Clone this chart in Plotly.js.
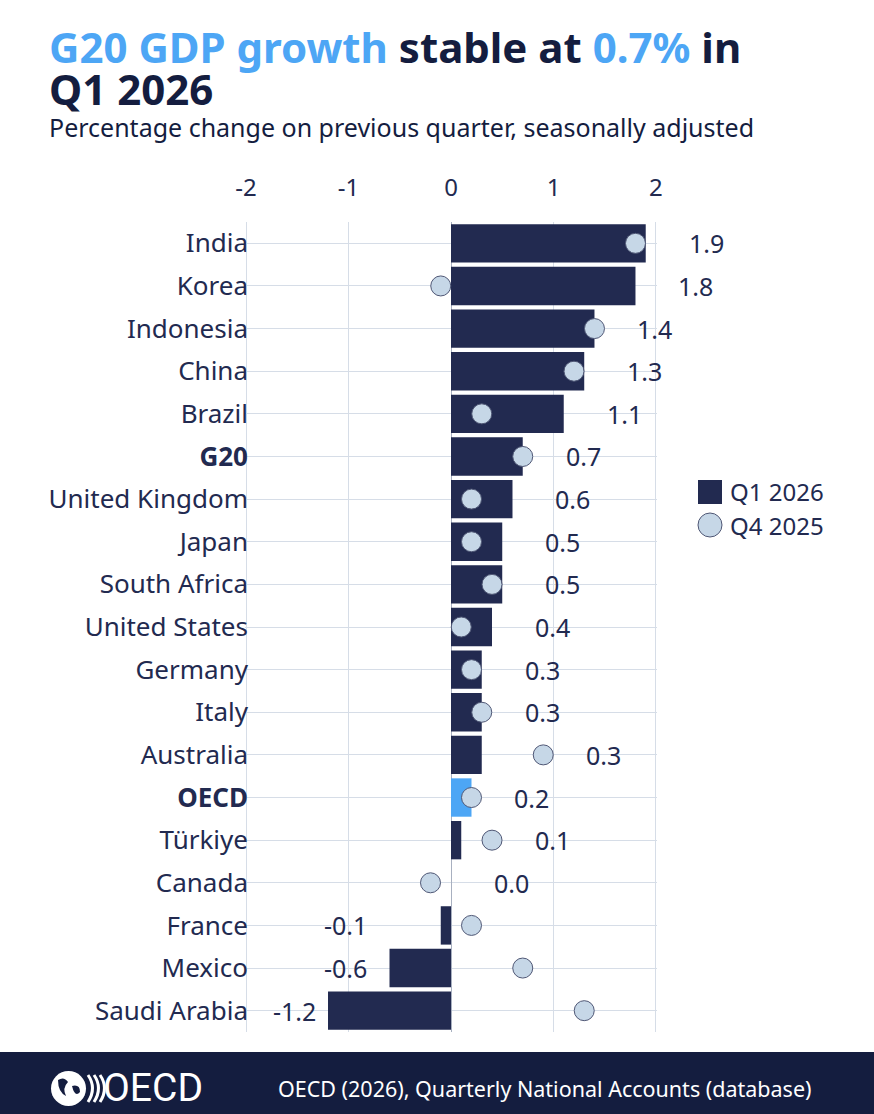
<!DOCTYPE html>
<html>
<head>
<meta charset="utf-8">
<script src="https://cdn.plot.ly/plotly-3.0.1.min.js"></script>
<style>
  html, body { margin: 0; padding: 0; background: #ffffff; }
  #chart { width: 874px; height: 1114px; }
</style>
</head>
<body>
<div id="chart"></div>
<script>
// ---- Data ----
const categories = ["India", "Korea", "Indonesia", "China", "Brazil", "G20", "United Kingdom", "Japan",
  "South Africa", "United States", "Germany", "Italy", "Australia", "OECD", "Türkiye", "Canada",
  "France", "Mexico", "Saudi Arabia"];
const q1_2026 = [1.9, 1.8, 1.4, 1.3, 1.1, 0.7, 0.6, 0.5, 0.5, 0.4, 0.3, 0.3, 0.3, 0.2, 0.1, 0.0, -0.1, -0.6, -1.2];
const q4_2025 = [1.8, -0.1, 1.4, 1.2, 0.3, 0.7, 0.2, 0.2, 0.4, 0.1, 0.2, 0.3, 0.9, 0.2, 0.4, -0.2, 0.2, 0.7, 1.3];
const boldCategories = ["G20", "OECD"];
const highlightCategory = "OECD";
const xTicks = [-2, -1, 0, 1, 2];
const seriesNames = ["Q1 2026", "Q4 2025"];

// ---- Styling ----
const NAVY = "#222a50";
const DARK = "#141d3f";
const BLUE = "#4da6f5";
const DOT = "#c6d7e7";
const GRID = "#d6dde7";
const FONT = "Noto Sans, Open Sans, sans-serif";

const W = 874, H = 1114;
const ML = 245, MT = 222, PW = 412, PH = 810;
const MR = W - ML - PW, MB = H - MT - PH;
const X_RANGE = [-2.01, 2.01];
const px = x => (x - ML) / PW;            // pixel x -> paper x
const py = y => 1 - (y - MT) / PH;        // pixel y -> paper y
const dx = v => (v - X_RANGE[0]) / (X_RANGE[1] - X_RANGE[0]);  // data x -> paper x

const barColors = categories.map(c => c === highlightCategory ? BLUE : NAVY);
const tickText = categories.map(c => boldCategories.includes(c) ? "<b>" + c + "</b>" : c);

const traces = [
  {
    type: "bar", orientation: "h", name: seriesNames[0],
    y: categories, x: q1_2026,
    marker: { color: barColors, line: { width: 0 } },
    hoverinfo: "x+y", showlegend: false
  },
  {
    type: "scatter", mode: "markers", name: seriesNames[1],
    y: categories, x: q4_2025,
    marker: { size: 20, color: DOT, line: { color: "#4f5775", width: 1 } },
    showlegend: false, cliponaxis: false
  }
];

// value labels, placed from the data (right of bar/dot, or left of negative bars)
const valueLabels = q1_2026.map((v, i) => ({
  xref: "paper", yref: "y", y: categories[i],
  x: dx(v >= 0 ? Math.max(v, q4_2025[i]) + 0.4 : Math.min(v, -0.7) - 0.1),
  xanchor: v >= 0 ? "left" : "right", yanchor: "middle",
  text: v.toFixed(1), showarrow: false,
  font: { family: FONT, size: 25, color: NAVY }
}));

function chevron(x) {
  return "M " + px(x) + "," + py(1075) + " Q " + px(x + 9) + "," + py(1088) + " " + px(x) + "," + py(1102);
}

const shapes = [
  // footer band
  { type: "rect", xref: "paper", yref: "paper", x0: px(0), x1: px(W), y0: py(1052), y1: py(H + 2),
    fillcolor: DARK, line: { width: 0 }, layer: "above" },
  // OECD globe
  { type: "circle", xref: "paper", yref: "paper", x0: px(51), x1: px(86), y0: py(1106), y1: py(1071),
    fillcolor: "#ffffff", line: { width: 0 }, layer: "above" },
  { type: "path", xref: "paper", yref: "paper", layer: "above", fillcolor: DARK, line: { width: 0 },
    path: "M " + px(58) + "," + py(1080) + " Q " + px(64) + "," + py(1076) + " " + px(68) + "," + py(1082) +
          " Q " + px(62) + "," + py(1088) + " " + px(66) + "," + py(1096) + " Q " + px(58) + "," + py(1092) + " " + px(58) + "," + py(1080) + " Z" },
  { type: "path", xref: "paper", yref: "paper", layer: "above", fillcolor: DARK, line: { width: 0 },
    path: "M " + px(72) + "," + py(1086) + " Q " + px(80) + "," + py(1084) + " " + px(80) + "," + py(1092) +
          " Q " + px(75) + "," + py(1098) + " " + px(72) + "," + py(1086) + " Z" },
  // chevrons
  { type: "path", xref: "paper", yref: "paper", layer: "above",
    path: chevron(88), fillcolor: "rgba(0,0,0,0)", line: { color: "#ffffff", width: 3 } },
  { type: "path", xref: "paper", yref: "paper", layer: "above",
    path: chevron(94), fillcolor: "rgba(0,0,0,0)", line: { color: "#ffffff", width: 3 } },
  { type: "path", xref: "paper", yref: "paper", layer: "above",
    path: chevron(100), fillcolor: "rgba(0,0,0,0)", line: { color: "#ffffff", width: 3 } },
  // legend symbols
  { type: "rect", xref: "paper", yref: "paper", x0: px(698), x1: px(722), y0: py(504), y1: py(480),
    fillcolor: NAVY, line: { width: 0 } },
  { type: "circle", xref: "paper", yref: "paper", x0: px(698), x1: px(722), y0: py(537), y1: py(513),
    fillcolor: DOT, line: { color: "#4f5775", width: 1 } }
];

const annotations = valueLabels.concat([
  { xref: "paper", yref: "paper", x: px(47), y: py(47), xanchor: "left", yanchor: "middle", showarrow: false,
    text: '<span style="color:' + BLUE + '">G20 GDP growth</span> stable at <span style="color:' + BLUE + '">0.7%</span> in',
    font: { family: FONT, size: 42, color: DARK, weight: 700 } },
  { xref: "paper", yref: "paper", x: px(47), y: py(88), xanchor: "left", yanchor: "middle", showarrow: false,
    text: "Q1 2026", font: { family: FONT, size: 42, color: DARK, weight: 700 } },
  { xref: "paper", yref: "paper", x: px(47), y: py(127), xanchor: "left", yanchor: "middle", showarrow: false,
    text: "Percentage change on previous quarter, seasonally adjusted",
    font: { family: FONT, size: 25, color: DARK } },
  // legend texts
  { xref: "paper", yref: "paper", x: px(728), y: py(492), xanchor: "left", yanchor: "middle", showarrow: false,
    text: seriesNames[0], font: { family: FONT, size: 24, color: NAVY } },
  { xref: "paper", yref: "paper", x: px(728), y: py(525), xanchor: "left", yanchor: "middle", showarrow: false,
    text: seriesNames[1], font: { family: FONT, size: 24, color: NAVY } },
  // footer
  { xref: "paper", yref: "paper", x: px(101), y: py(1088), xanchor: "left", yanchor: "middle", showarrow: false,
    text: "OECD", font: { family: "Roboto, Noto Sans, sans-serif", size: 39, color: "#ffffff" } },
  { xref: "paper", yref: "paper", x: px(276), y: py(1088), xanchor: "left", yanchor: "middle", showarrow: false,
    text: "OECD (2026), Quarterly National Accounts (database)",
    font: { family: FONT, size: 21.5, color: "#ffffff" } }
]);

const layout = {
  width: W, height: H,
  margin: { l: ML, r: MR, t: MT, b: MB, pad: 0 },
  paper_bgcolor: "#ffffff", plot_bgcolor: "#ffffff",
  font: { family: FONT, color: NAVY },
  bargap: 0.1,
  showlegend: false,
  xaxis: {
    side: "top", range: X_RANGE, autorange: false, tickvals: xTicks, ticktext: xTicks.map(String),
    showgrid: true, gridcolor: GRID, gridwidth: 1,
    zeroline: true, zerolinecolor: "#a8b0c0", zerolinewidth: 1,
    showline: false, ticks: "", ticklabelstandoff: 20,
    tickfont: { family: FONT, size: 24, color: NAVY }, fixedrange: true
  },
  yaxis: {
    type: "category", categoryorder: "array", categoryarray: categories,
    range: [categories.length - 0.5, -0.5], autorange: false,
    tickvals: categories, ticktext: tickText,
    showgrid: true, gridcolor: GRID, gridwidth: 1,
    showline: false, ticks: "", ticklabelstandoff: -4,
    tickfont: { family: FONT, size: 26, color: NAVY }, fixedrange: true
  },
  shapes: shapes,
  annotations: annotations
};

Plotly.newPlot("chart", traces, layout, { displayModeBar: false, staticPlot: true });
</script>
</body>
</html>
